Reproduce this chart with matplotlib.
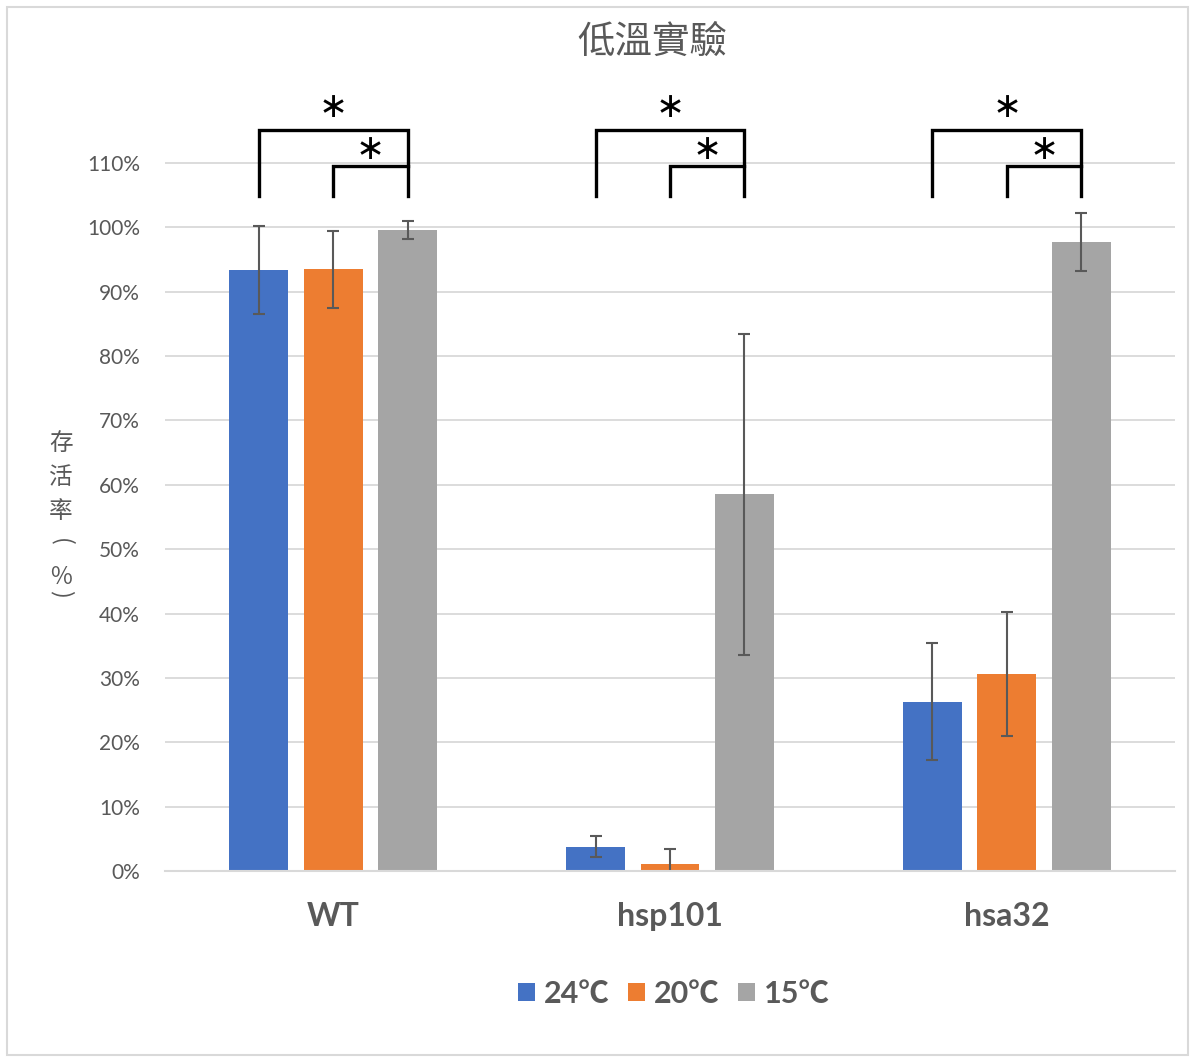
import matplotlib
matplotlib.use("Agg")
import matplotlib.pyplot as plt
from matplotlib.patches import Patch, Rectangle
import numpy as np

plt.rcParams['font.family'] = ['Lato', 'Noto Sans CJK TC', 'DejaVu Sans']

categories = ["WT", "hsp101", "hsa32"]
series = ["24℃", "20℃", "15℃"]
values = {
    "24℃": [93.4, 3.8, 26.3],
    "20℃": [93.5, 1.1, 30.6],
    "15℃": [99.6, 58.5, 97.7],
}
errors = {
    "24℃": [6.8, 1.6, 9.1],
    "20℃": [6.0, 2.3, 9.7],
    "15℃": [1.4, 24.9, 4.5],
}
yticks = [0, 10, 20, 30, 40, 50, 60, 70, 80, 90, 100, 110]
colors = ["#4472C4", "#ED7D31", "#A5A5A5"]
grey = "#595959"

W, H = 1194, 1060
fig = plt.figure(figsize=(W / 100, H / 100), dpi=100)
fig.patches.append(Rectangle((7 / W, 5 / H), (W - 13) / W, (H - 12) / H,
                             transform=fig.transFigure, fill=False,
                             edgecolor="#d9d9d9", lw=1.5))

ymax = 120
ax_left, ax_right = 165 / W, 1175 / W
ax_bottom = (H - 871) / H
ax_top = (H - (871 - ymax * 6.436)) / H
ax = fig.add_axes([ax_left, ax_bottom, ax_right - ax_left, ax_top - ax_bottom])

x = np.arange(len(categories))
width = 0.175
offset = 0.221
for i, s in enumerate(series):
    ax.bar(x + (i - 1) * offset, values[s], width, color=colors[i], zorder=3,
           yerr=errors[s], error_kw=dict(ecolor=grey, elinewidth=1.5,
                                         capsize=4.5, capthick=1.5, zorder=4))

ax.set_xlim(-0.5, 2.5)
ax.set_ylim(0, ymax)
ax.set_yticks(yticks)
ax.set_yticklabels([f"{t}%" for t in yticks], color=grey, fontsize=15)
ax.set_xticks(x)
ax.set_xticklabels(categories, fontsize=23, fontweight='bold', color=grey)
ax.tick_params(axis='y', length=0, pad=18)
ax.tick_params(axis='x', length=0, pad=22)
ax.yaxis.grid(True, color="#d9d9d9", lw=1.3, zorder=0)
for sp in ["top", "right", "left"]:
    ax.spines[sp].set_visible(False)
ax.spines["bottom"].set_color("#d9d9d9")
ax.spines["bottom"].set_linewidth(1.5)
ax.spines["bottom"].set_zorder(5)
ax.set_axisbelow(True)

# significance brackets
for xi in x:
    x1, x2, x3 = xi - offset, xi, xi + offset
    ax.plot([x1, x1, x3, x3], [104.9, 115.1, 115.1, 104.9], color="black",
            lw=2.4, clip_on=False, zorder=6, solid_joinstyle='miter')
    ax.plot([x2, x2, x3], [104.9, 109.6, 109.6], color="black",
            lw=2.4, clip_on=False, zorder=6, solid_joinstyle='miter')
    ax.text(xi, 118.7, "∗", ha='center', va='center', fontsize=25,
            family='DejaVu Sans', color='black', clip_on=False)
    ax.text((x2 + x3) / 2, 112.2, "∗", ha='center', va='center', fontsize=25,
            family='DejaVu Sans', color='black', clip_on=False)

fig.text(652 / W, 1 - 42 / H, "低溫實驗", ha='center', va='center',
         fontsize=27, color=grey, family=['Noto Sans CJK TC', 'DejaVu Sans'],
         fontweight='light')

# vertical y-axis title, one character per line
ylab_chars = ["存", "活", "率", "(", "％", ")"]
ylab_y = [443, 477, 512, 542, 577, 594]
ylab_rot = [0, 0, 0, -90, 0, -90]
for ch, yy, rot in zip(ylab_chars, ylab_y, ylab_rot):
    fig.text(61 / W, 1 - yy / H, ch, ha='center', va='center', rotation=rot,
             fontsize=17, color=grey, family=['Noto Sans CJK TC', 'DejaVu Sans'],
             fontweight='light')

handles = [Patch(facecolor=c, edgecolor='none') for c in colors]
leg = fig.legend(handles, series, loc='center', ncol=3,
                 bbox_to_anchor=(674 / W, 1 - 994 / H), frameon=False,
                 handlelength=0.55, handleheight=0.55, handletextpad=0.3,
                 columnspacing=0.6,
                 prop=dict(family=['Lato', 'Noto Sans CJK TC'], weight='bold', size=22))
for t in leg.get_texts():
    t.set_color(grey)

fig.savefig("out.png", dpi=100)
